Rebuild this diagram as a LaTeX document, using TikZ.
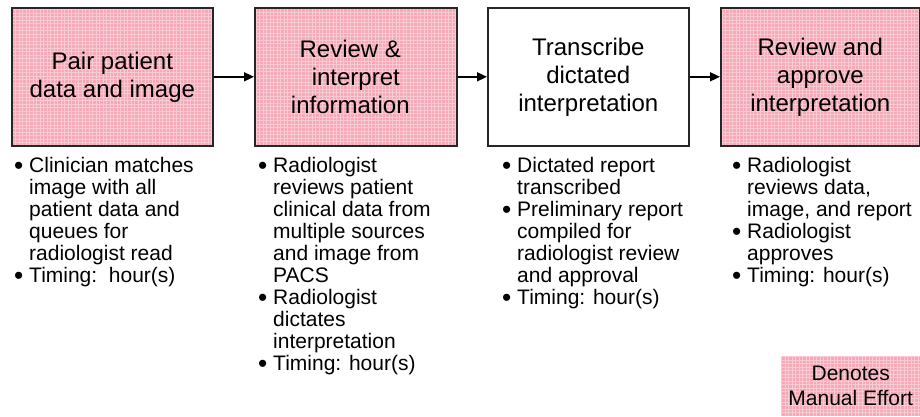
\documentclass[tikz,border=0pt]{standalone}
\usepackage{fontspec}
\setmainfont{Liberation Sans}
\usetikzlibrary{arrows.meta}
\definecolor{pinkfill}{RGB}{245,168,182}
\tikzset{
  manual/.style={fill=pinkfill, path picture={\draw[white,opacity=0.4,line width=0.7pt,step=3.5pt] (path picture bounding box.south west) grid (path picture bounding box.north east);}},
  stepbox/.style={draw=black!85, line width=1.6pt, minimum height=138pt, inner sep=0pt, align=center, font=\fontsize{24}{28}\selectfont, anchor=north west},
  bullets/.style={anchor=north west, inner sep=0pt, align=left, font=\fontsize{21}{22}\selectfont},
  flow/.style={line width=1.6pt, -{Triangle[length=10pt,width=9pt]}},
  legendbox/.style={manual, minimum width=139pt, minimum height=60pt, anchor=north west, inner sep=0pt, align=center, font=\fontsize{21}{25}\selectfont},
}
\newcommand\bul{\strut\makebox[15pt][l]{\raisebox{-1.8pt}{\scalebox{1.25}{\textbullet}}}}
\newcommand\ind{\hspace*{15pt}}
\newcommand\lsh{\hspace*{11pt}}
\begin{document}
\begin{tikzpicture}[x=1pt,y=-1pt]
\useasboundingbox (0,0) rectangle (920,416);
\node[stepbox,manual,minimum width=201pt] (b1) at (11,7) {Pair patient\\data and image};
\node[stepbox,manual,minimum width=202pt] (b2) at (254,7) {Review \&\lsh\\interpret\lsh\\information\lsh};
\node[stepbox,fill=white,minimum width=201pt] (b3) at (487,7) {Transcribe\\dictated\\interpretation};
\node[stepbox,manual,minimum width=199pt] (b4) at (720,7) {Review and\\approve\\interpretation};
\draw[flow] (b1.east) -- (b2.west);
\draw[flow] (b2.east) -- (b3.west);
\draw[flow] (b3.east) -- (b4.west);
\node[bullets] (t1) at (14,156.6) {\bul Clinician matches\\ \ind image with all\\ \ind patient data and\\ \ind queues for\\ \ind radiologist read\\ \bul Timing:\ \ hour(s)};
\node[bullets] (t2) at (258,156.6) {\bul Radiologist\\ \ind reviews patient\\ \ind clinical data from\\ \ind multiple sources\\ \ind and image from\\ \ind PACS\\ \bul Radiologist\\ \ind dictates\\ \ind interpretation\\ \bul Timing: hour(s)};
\node[bullets] (t3) at (502,156.6) {\bul Dictated report\\ \ind transcribed\\ \bul Preliminary report\\ \ind compiled for\\ \ind radiologist review\\ \ind and approval\\ \bul Timing: hour(s)};
\node[bullets] (t4) at (732,156.6) {\bul Radiologist\\ \ind reviews data,\\ \ind image, and report\\ \bul Radiologist\\ \ind approves\\ \bul Timing: hour(s)};
\node[legendbox] (leg) at (781,356) {Denotes\\Manual Effort};
\end{tikzpicture}
\end{document}
